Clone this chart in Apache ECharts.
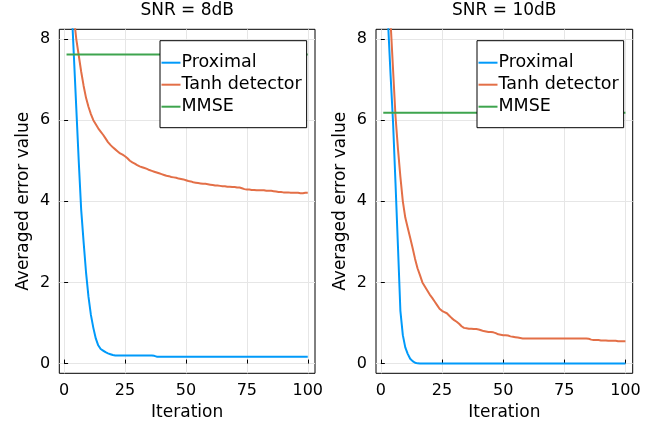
<!DOCTYPE html>
<html>
<head>
<meta charset="utf-8">
<script src="https://cdn.jsdelivr.net/npm/echarts@6/dist/echarts.min.js"></script>
<style>
  html, body { margin: 0; padding: 0; background: #fff; }
  #chart { width: 667px; height: 423px; }
</style>
</head>
<body>
<div id="chart"></div>
<script>
// iteration index 1..100
const iterations = Array.from({ length: 100 }, (_, i) => i + 1);

const panelTitles = ['SNR = 8dB', 'SNR = 10dB'];
const seriesNames = ['Proximal', 'Tanh detector', 'MMSE'];
const xTicks = [0, 25, 50, 75, 100];
const yTicks = [0, 2, 4, 6, 8];

// SNR = 8dB
const proximal8 = [
  11.5, 10.2, 8.9, 7.6, 6.3, 5.0, 3.8, 3.0, 2.25, 1.65,
  1.2, 0.88, 0.62, 0.45, 0.36, 0.32, 0.28, 0.25, 0.23, 0.21,
  0.2, 0.2, 0.2, 0.2, 0.2, 0.2, 0.2, 0.2, 0.2, 0.2,
  0.2, 0.2, 0.2, 0.2, 0.2, 0.2, 0.19, 0.17, 0.17, 0.17,
  0.17, 0.17, 0.17, 0.17, 0.17, 0.17, 0.17, 0.17, 0.17, 0.17,
  0.17, 0.17, 0.17, 0.17, 0.17, 0.17, 0.17, 0.17, 0.17, 0.17,
  0.17, 0.17, 0.17, 0.17, 0.17, 0.17, 0.17, 0.17, 0.17, 0.17,
  0.17, 0.17, 0.17, 0.17, 0.17, 0.17, 0.17, 0.17, 0.17, 0.17,
  0.17, 0.17, 0.17, 0.17, 0.17, 0.17, 0.17, 0.17, 0.17, 0.17,
  0.17, 0.17, 0.17, 0.17, 0.17, 0.17, 0.17, 0.17, 0.17, 0.17
];
const tanh8 = [
  11.2, 10.1, 9.2, 8.55, 8.0, 7.6, 7.2, 6.85, 6.55, 6.33,
  6.15, 6.0, 5.9, 5.8, 5.72, 5.64, 5.55, 5.46, 5.39, 5.33,
  5.28, 5.23, 5.18, 5.15, 5.11, 5.06, 5.0, 4.96, 4.93, 4.89,
  4.86, 4.84, 4.82, 4.8, 4.77, 4.75, 4.73, 4.71, 4.69, 4.67,
  4.65, 4.63, 4.62, 4.6, 4.59, 4.58, 4.56, 4.55, 4.54, 4.52,
  4.5, 4.49, 4.47, 4.46, 4.45, 4.44, 4.43, 4.43, 4.42, 4.41,
  4.4, 4.39, 4.39, 4.38, 4.37, 4.37, 4.36, 4.36, 4.35, 4.35,
  4.34, 4.34, 4.32, 4.3, 4.29, 4.29, 4.28, 4.28, 4.27, 4.27,
  4.27, 4.27, 4.26, 4.26, 4.26, 4.25, 4.24, 4.23, 4.23, 4.22,
  4.22, 4.22, 4.21, 4.21, 4.21, 4.21, 4.2, 4.2, 4.21, 4.21
];

// SNR = 10dB
const proximal10 = [
  10.6, 9.4, 8.35, 7.1, 5.95, 4.45, 2.9, 1.3, 0.7, 0.4,
  0.24, 0.12, 0.06, 0.02, 0.005, 0, 0, 0, 0, 0,
  0, 0, 0, 0, 0, 0, 0, 0, 0, 0,
  0, 0, 0, 0, 0, 0, 0, 0, 0, 0,
  0, 0, 0, 0, 0, 0, 0, 0, 0, 0,
  0, 0, 0, 0, 0, 0, 0, 0, 0, 0,
  0, 0, 0, 0, 0, 0, 0, 0, 0, 0,
  0, 0, 0, 0, 0, 0, 0, 0, 0, 0,
  0, 0, 0, 0, 0, 0, 0, 0, 0, 0,
  0, 0, 0, 0, 0, 0, 0, 0, 0, 0
];
const tanh10 = [
  11.6, 10.4, 9.3, 8.4, 7.25, 6.1, 5.3, 4.6, 4.0, 3.6,
  3.35, 3.1, 2.85, 2.58, 2.35, 2.18, 2.0, 1.9, 1.8, 1.7,
  1.62, 1.53, 1.44, 1.35, 1.3, 1.27, 1.24, 1.18, 1.12, 1.07,
  1.03, 0.98, 0.92, 0.88, 0.87, 0.86, 0.86, 0.85, 0.85, 0.84,
  0.82, 0.8, 0.79, 0.78, 0.78, 0.77, 0.75, 0.72, 0.71, 0.7,
  0.7, 0.69, 0.67, 0.66, 0.65, 0.64, 0.63, 0.62, 0.62, 0.62,
  0.62, 0.62, 0.62, 0.62, 0.62, 0.62, 0.62, 0.62, 0.62, 0.62,
  0.62, 0.62, 0.62, 0.62, 0.62, 0.62, 0.62, 0.62, 0.62, 0.62,
  0.62, 0.62, 0.62, 0.62, 0.61, 0.59, 0.58, 0.58, 0.58, 0.57,
  0.57, 0.57, 0.56, 0.56, 0.56, 0.56, 0.55, 0.55, 0.55, 0.55
];

const mmseLevel = [7.62, 6.18];

const colors = ['#009AFA', '#E36F47', '#3EA44E'];
const font = 'DejaVu Sans';

// plot area of each panel (px)
const panels = [
  { left: 59.3, width: 255.7, titleX: 187.2, legendLeft: 160 },
  { left: 376, width: 256.7, titleX: 504.3, legendLeft: 477 }
];
const plotTop = 29.3;
const plotHeight = 344;

const pair = (vals) => vals.map((v, i) => [iterations[i], v]);
const panelData = [
  [pair(proximal8), pair(tanh8)],
  [pair(proximal10), pair(tanh10)]
];

const chart = echarts.init(document.getElementById('chart'), null, { renderer: 'canvas' });

const option = {
  animation: false,
  backgroundColor: '#fff',
  textStyle: { fontFamily: font },
  title: panels.map((p, k) => ({
    text: panelTitles[k],
    left: p.titleX,
    top: 2,
    padding: 0,
    textAlign: 'center',
    textStyle: { fontFamily: font, fontSize: 17, fontWeight: 'normal', color: '#000' }
  })),
  grid: panels.map(p => ({
    left: p.left,
    top: plotTop,
    width: p.width,
    height: plotHeight,
    containLabel: false,
    outerBoundsMode: 'none',
    show: true,
    borderColor: '#000',
    borderWidth: 1,
    backgroundColor: 'transparent'
  })),
  legend: panels.map(p => ({
    data: seriesNames,
    orient: 'vertical',
    left: p.legendLeft,
    top: 40.7,
    z: 20,
    icon: 'rect',
    itemWidth: 19,
    itemHeight: 2,
    itemGap: 0,
    selectedMode: false,
    padding: [11, 5, 10, 1.5],
    backgroundColor: '#fff',
    borderColor: '#000',
    borderWidth: 1,
    textStyle: { fontFamily: font, fontSize: 17.5, lineHeight: 22, color: '#000', padding: [0, 0, 0, -4] }
  })),
  xAxis: panels.map((p, k) => ({
    type: 'value',
    gridIndex: k,
    min: -1.97,
    max: 102.97,
    name: 'Iteration',
    nameLocation: 'middle',
    nameGap: 30,
    nameTextStyle: { fontFamily: font, fontSize: 17, color: '#000' },
    axisLine: { show: false },
    axisTick: { show: true, inside: true, length: 4, customValues: xTicks, lineStyle: { color: '#000' } },
    axisLabel: { customValues: xTicks, fontSize: 16, color: '#000', margin: 10, fontFamily: font },
    splitLine: { show: true, lineStyle: { color: '#e6e6e6', width: 1 } }
  })),
  yAxis: panels.map((p, k) => ({
    type: 'value',
    gridIndex: k,
    min: -0.24,
    max: 8.24,
    name: 'Averaged error value',
    nameLocation: 'middle',
    nameGap: 27,
    nameRotate: 90,
    nameTextStyle: { fontFamily: font, fontSize: 17, color: '#000' },
    axisLine: { show: false },
    axisTick: { show: true, inside: true, length: 4, customValues: yTicks, lineStyle: { color: '#000' } },
    axisLabel: { customValues: yTicks, fontSize: 16, color: '#000', margin: 9, fontFamily: font },
    splitLine: { show: true, lineStyle: { color: '#e6e6e6', width: 1 } }
  })),
  series: []
};

panels.forEach((p, k) => {
  const lines = [
    panelData[k][0],
    panelData[k][1],
    [[iterations[0], mmseLevel[k]], [iterations[iterations.length - 1], mmseLevel[k]]]
  ];
  lines.forEach((d, s) => {
    option.series.push({
      name: seriesNames[s],
      type: 'line',
      xAxisIndex: k,
      yAxisIndex: k,
      data: d,
      symbol: 'none',
      showSymbol: false,
      clip: true,
      color: colors[s],
      lineStyle: { color: colors[s], width: 2 },
      z: 2 + s
    });
  });
});

chart.setOption(option);
window.addEventListener('resize', chart.resize);
</script>
</body>
</html>
